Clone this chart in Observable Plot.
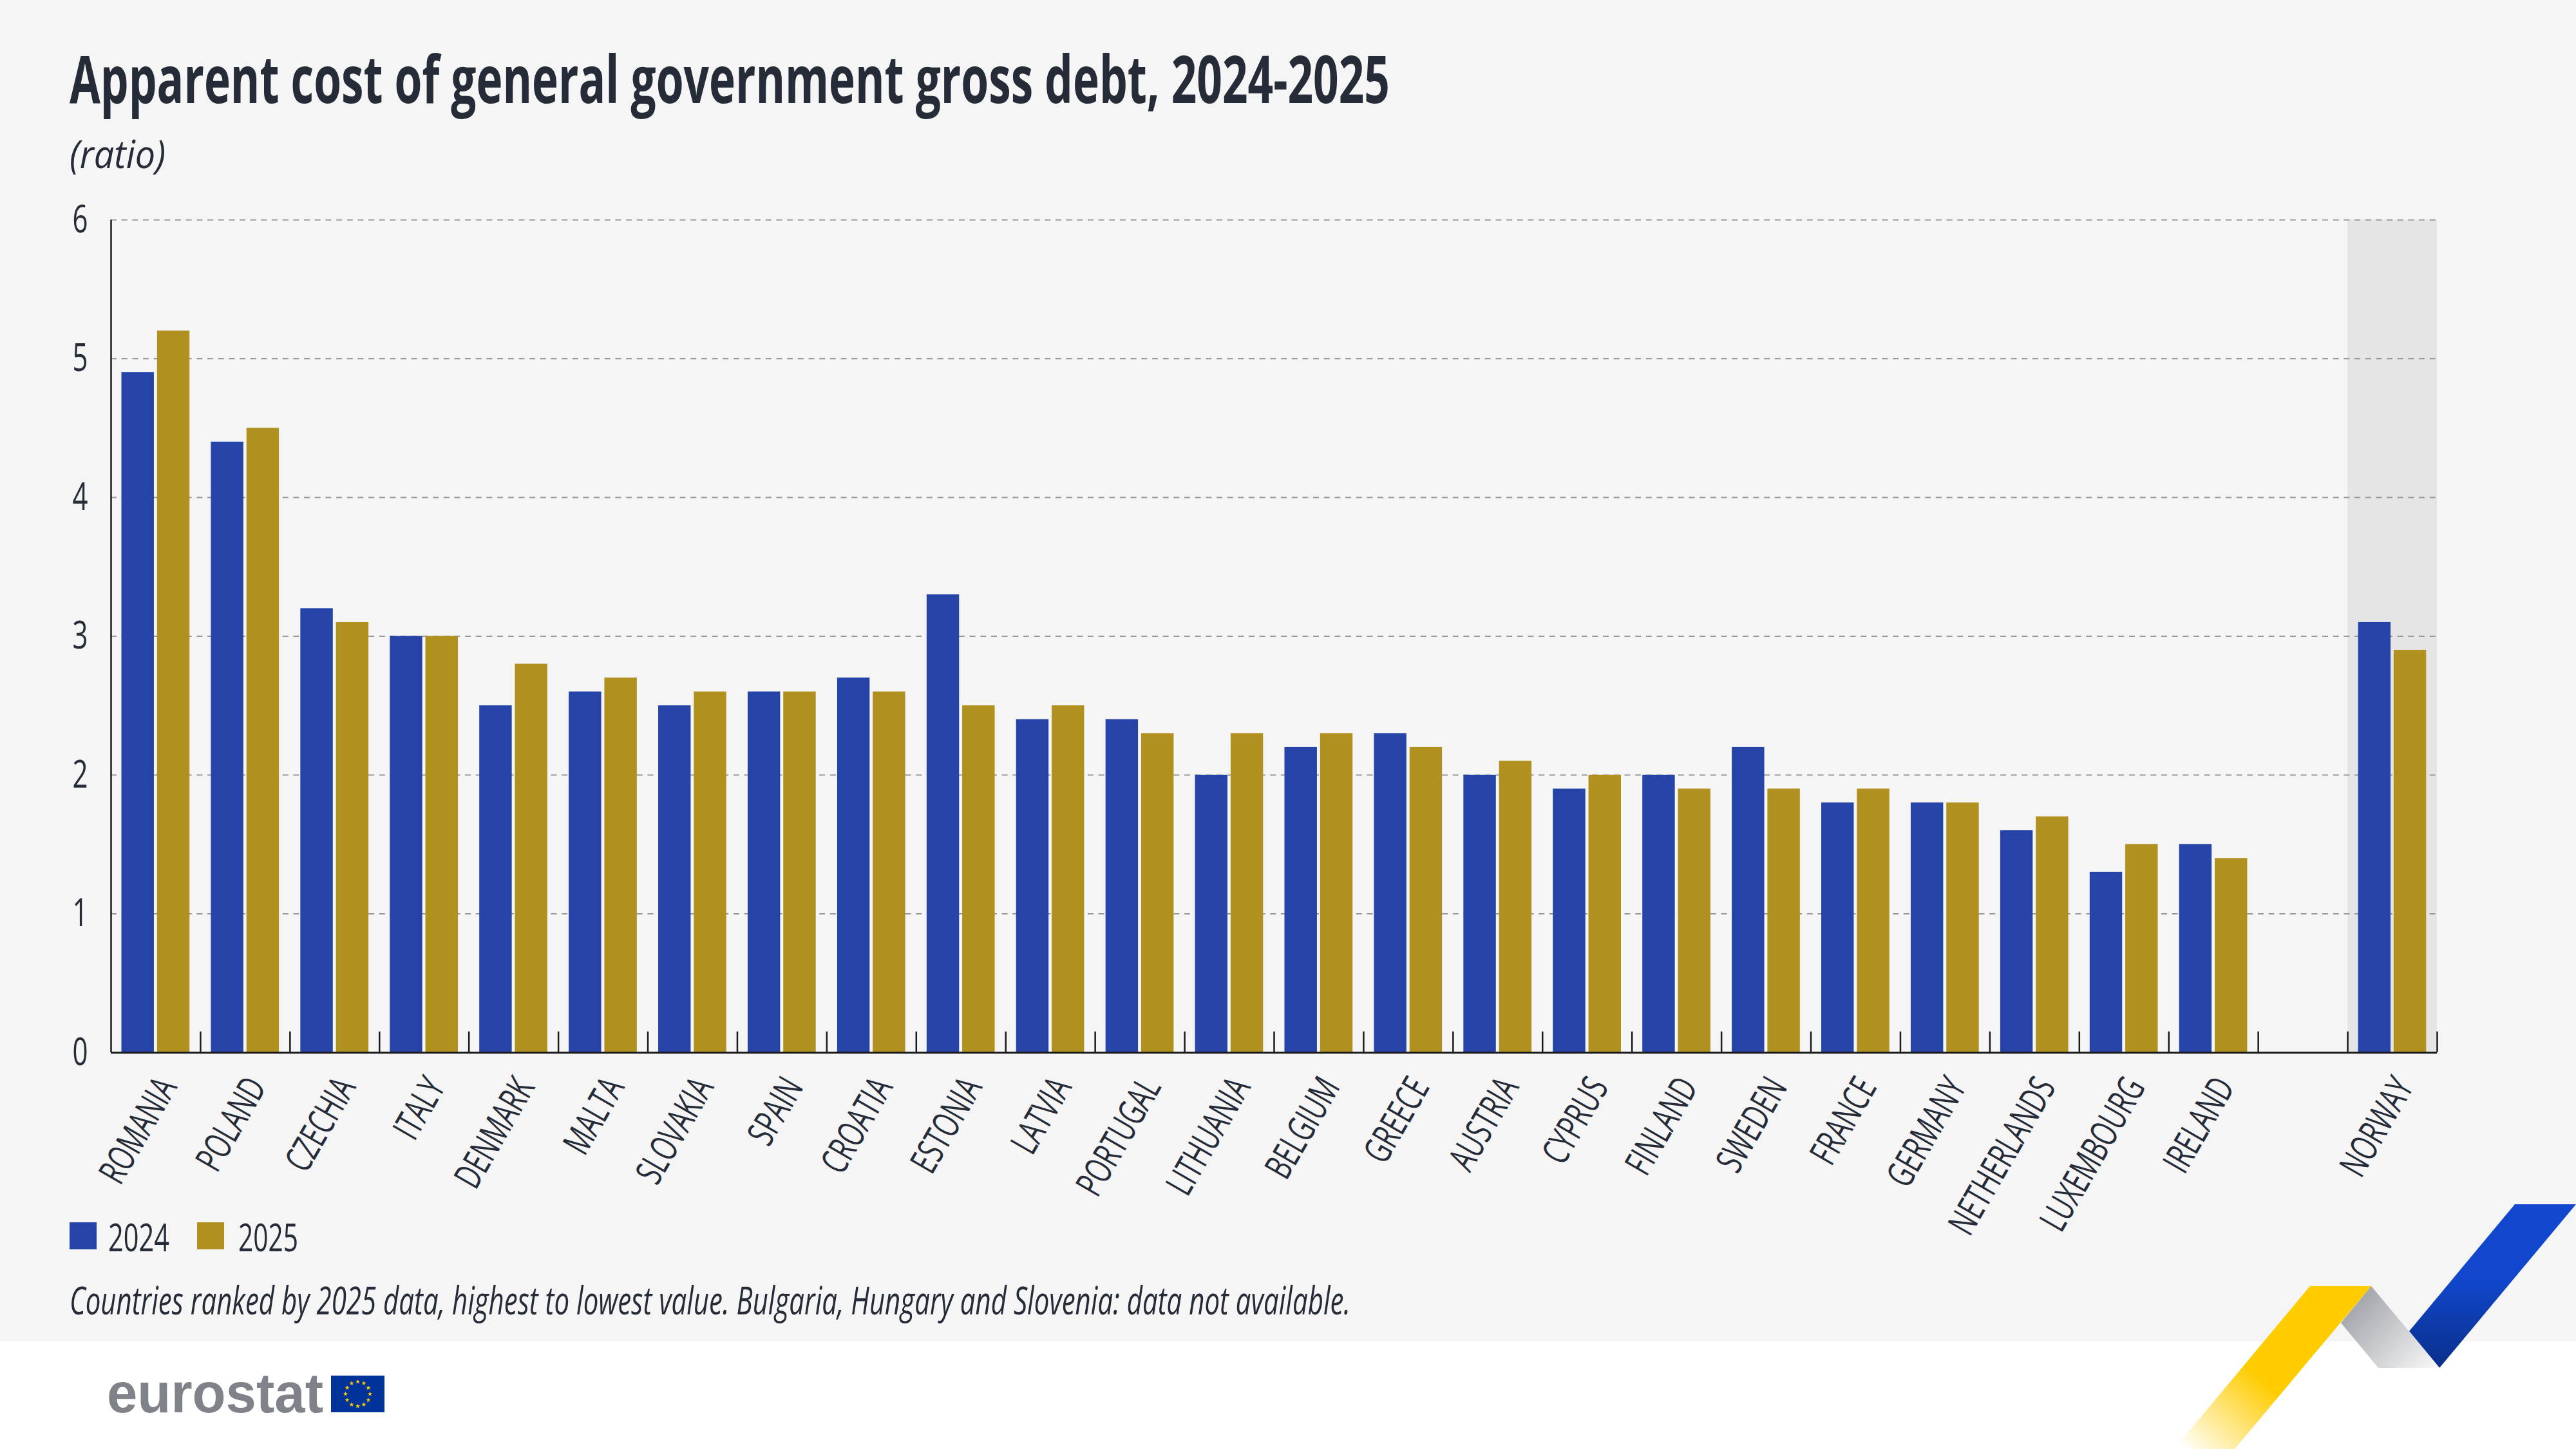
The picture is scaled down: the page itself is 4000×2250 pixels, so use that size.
<!DOCTYPE html>
<html><head><meta charset="utf-8">
<script src="https://cdn.jsdelivr.net/npm/d3@7"></script>
<script src="https://cdn.jsdelivr.net/npm/@observablehq/plot@0.6"></script>
<style>
html,body{margin:0;padding:0;background:#fff}
#page{position:relative;width:4000px;height:2250px;overflow:hidden;background:#fff;font-family:"Open Sans","Liberation Sans",sans-serif;color:#262b38}
#bg{position:absolute;left:0;top:0;width:4000px;height:2083px;background:#f5f5f5}
.t{position:absolute;white-space:nowrap;transform-origin:0 0}
#title{left:108px;top:61px;font-size:102px;font-weight:700;line-height:120px}
#sub{left:108px;top:203px;font-size:60px;font-style:italic;line-height:70px}
#chart{position:absolute;left:0;top:320px}
.sw{position:absolute;top:1898px;width:42px;height:42px}
.lg{top:1885px;font-size:60px;line-height:70px}
#cap{left:108px;top:1983px;font-size:60px;font-style:italic;line-height:70px}
#deco{position:absolute;left:0;top:0}
</style></head><body>
<div id="page">
<div id="bg"></div>
<div class="t" id="title" data-w="2050">Apparent cost of general government gross debt, 2024-2025</div>
<div class="t" id="sub" data-w="149">(ratio)</div>
<div id="chart"></div>
<div class="sw" style="left:108px;background:#2644a7"></div>
<div class="t lg" style="left:168px" data-w="95">2024</div>
<div class="sw" style="left:306px;background:#b09120"></div>
<div class="t lg" style="left:370px" data-w="93">2025</div>
<div class="t" id="cap" data-w="1989">Countries ranked by 2025 data, highest to lowest value. Bulgaria, Hungary and Slovenia: data not available.</div>
<svg id="deco" width="4000" height="2250" viewBox="0 0 4000 2250">
<defs>
<linearGradient id="gb" x1="0" y1="0" x2="0" y2="1"><stop offset="0.45" stop-color="#1047cc"/><stop offset="1" stop-color="#0a2f8a"/></linearGradient>
<linearGradient id="gg" gradientUnits="userSpaceOnUse" x1="3640" y1="2010" x2="3770" y2="2130"><stop offset="0" stop-color="#999ca1"/><stop offset="1" stop-color="#f5f5f5"/></linearGradient>
<linearGradient id="gy" gradientUnits="userSpaceOnUse" x1="3500" y1="2130" x2="3390" y2="2250"><stop offset="0" stop-color="#ffcc00"/><stop offset="1" stop-color="#ffffff"/></linearGradient>
</defs>
<polygon points="3905,1870 4000,1870 3788,2124 3741,2067" fill="url(#gb)"/>
<polygon points="3682,1997 3788,2124 3693,2124 3635,2054" fill="url(#gg)"/>
<polygon points="3587,1997 3682,1997 3470,2250 3376,2250" fill="url(#gy)"/>
<text x="166" y="2193" font-family="Liberation Sans" font-weight="700" font-size="88" fill="#7f8389" textLength="336" lengthAdjust="spacingAndGlyphs">eurostat</text>
<rect x="514" y="2136" width="83" height="57" fill="#003399"/>
<g id="stars"></g>
</svg>
</div>
<script>
const countries = ["ROMANIA","POLAND","CZECHIA","ITALY","DENMARK","MALTA","SLOVAKIA","SPAIN","CROATIA","ESTONIA","LATVIA","PORTUGAL","LITHUANIA","BELGIUM","GREECE","AUSTRIA","CYPRUS","FINLAND","SWEDEN","FRANCE","GERMANY","NETHERLANDS","LUXEMBOURG","IRELAND","NORWAY"];
const values2024 = [4.9,4.4,3.2,3.0,2.5,2.6,2.5,2.6,2.7,3.3,2.4,2.4,2.0,2.2,2.3,2.0,1.9,2.0,2.2,1.8,1.8,1.6,1.3,1.5,3.1];
const values2025 = [5.2,4.5,3.1,3.0,2.8,2.7,2.6,2.6,2.6,2.5,2.5,2.3,2.3,2.3,2.2,2.1,2.0,1.9,1.9,1.9,1.8,1.7,1.5,1.4,2.9];
const yTicks = [0,1,2,3,4,5,6];
const blank = " ";
const xDomain = [...countries.slice(0,-1), blank, "NORWAY"];
const ink = "#262b38", axisInk = "#1a1a1a";
const half = 138.92/2;
const rows = countries.map((c,i)=>({c, a:values2024[i], b:values2025[i]}));

const plot = Plot.plot({
  width:4000, height:1610,
  marginTop:21, marginLeft:172, marginRight:216, marginBottom:296,
  style:{background:"transparent", fontFamily:'"Open Sans","Liberation Sans",sans-serif', fontSize:"58px", color:ink, overflow:"visible"},
  x:{type:"band", domain:xDomain, padding:0, round:false, axis:null},
  y:{domain:[0,6], axis:null},
  marks:[
    Plot.barY(["NORWAY"],{x:d=>d, y1:0, y2:6, fill:"#e5e5e5"}),
    Plot.ruleY(yTicks.slice(1),{y:d=>d, stroke:"#999", strokeWidth:2, strokeDasharray:"9 7.67"}),
    Plot.barY(rows,{x:"c", y:"a", fill:"#2644a7", insetLeft:16.5, insetRight:72}),
    Plot.barY(rows,{x:"c", y:"b", fill:"#b09120", insetLeft:71.8, insetRight:16.7}),
    Plot.ruleX(["ROMANIA"],{x:d=>d, y1:0, y2:6, dx:-half, stroke:axisInk, strokeWidth:2.5}),
    Plot.ruleX(xDomain.slice(1),{x:d=>d, y1:0, y2:0.15, dx:-half, stroke:axisInk, strokeWidth:2.5}),
    Plot.ruleX(["NORWAY"],{x:d=>d, y1:0, y2:0.15, dx:half, stroke:axisInk, strokeWidth:2.5}),
    Plot.ruleY([0],{stroke:axisInk, strokeWidth:3}),
    Plot.axisY({ticks:yTicks, tickSize:0, tickPadding:36, tickFormat:d=>d, fill:ink, fontSize:60, label:null, ariaLabel:"y-axis"}),
    Plot.axisX({tickSize:0, tickPadding:44, tickRotate:-60, dx:18, fill:ink, fontSize:58, label:null, ariaLabel:"x-axis"})
  ]
});
document.getElementById("chart").appendChild(plot);

// narrow the labels: the reference uses a condensed face that is not installed
plot.querySelectorAll('g[aria-label^="x-axis"] text').forEach(t=>{
  t.setAttribute("transform",(t.getAttribute("transform")||"")+" scale(0.67,1)");
});
plot.querySelectorAll('g[aria-label^="y-axis"] text').forEach(t=>{
  const x=+t.getAttribute("x")||0;
  t.setAttribute("transform",(t.getAttribute("transform")||"")+` translate(${x},0) scale(0.7,1) translate(${-x},0)`);
});
const fit=()=>document.querySelectorAll(".t[data-w]").forEach(el=>{
  el.style.transform="none";
  const w=el.getBoundingClientRect().width;
  el.style.transform=`scaleX(${+el.dataset.w/w})`;
});
fit();
if(document.fonts&&document.fonts.ready)document.fonts.ready.then(fit);

// EU flag ring
const starsG = document.getElementById("stars");
const star = (cx,cy,r)=>d3.range(10).map(k=>{const a=-Math.PI/2+k*Math.PI/5, q=k%2?r*0.4:r; return [cx+q*Math.cos(a),cy+q*Math.sin(a)].join(",");}).join(" ");
d3.range(12).forEach(k=>{
  const a=k*Math.PI/6;
  const p=document.createElementNS("http://www.w3.org/2000/svg","polygon");
  p.setAttribute("points",star(555.5+19*Math.cos(a),2164.5+19*Math.sin(a),3.8));
  p.setAttribute("fill","#ffcc00");
  starsG.appendChild(p);
});
</script>
</body></html>
